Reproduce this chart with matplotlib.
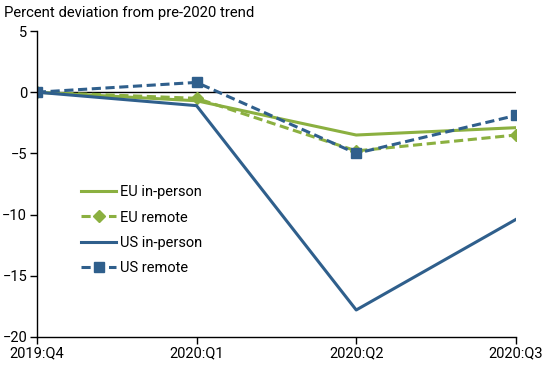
import matplotlib
matplotlib.use("Agg")
import matplotlib.pyplot as plt

plt.rcParams['font.family'] = ['Roboto', 'DejaVu Sans']

quarters = ["2019:Q4", "2020:Q1", "2020:Q2", "2020:Q3"]
eu_inperson = [0.0, -0.7, -3.5, -2.9]
eu_remote = [0.0, -0.5, -4.8, -3.5]
us_inperson = [0.0, -1.1, -17.8, -10.4]
us_remote = [0.0, 0.8, -5.0, -1.9]

green = "#8BB040"
blue = "#2F5F8C"

fig = plt.figure(figsize=(5.5, 3.65), dpi=100)
ax = fig.add_axes([0.067, 0.077, 0.871, 0.838])
x = list(range(len(quarters)))

ax.plot(x, eu_inperson, color=green, lw=2.2, label="EU in-person")
ax.plot(x, eu_remote, color=green, lw=2.2, ls=(0, (3, 1.5)), marker="D", ms=6, label="EU remote")
ax.plot(x, us_inperson, color=blue, lw=2.2, label="US in-person")
ax.plot(x, us_remote, color=blue, lw=2.2, ls=(0, (3, 1.5)), marker="s", ms=7, label="US remote")

ax.axhline(0, color="black", lw=1, zorder=0)
ax.set_xlim(0, 3)
ax.set_ylim(-20, 5)
ax.set_yticks([5, 0, -5, -10, -15, -20])
ax.set_xticks(x)
ax.set_xticklabels(quarters)
for s in ["top", "right"]:
    ax.spines[s].set_visible(False)
ax.spines["left"].set_linewidth(1)
ax.spines["bottom"].set_linewidth(1)
ax.tick_params(axis="both", labelsize=10.5, length=5, width=1, colors="black")
ax.tick_params(axis="y", pad=2)
ax.tick_params(axis="x", pad=2)
for lbl in ax.get_xticklabels():
    lbl.set_clip_on(False)

leg = ax.legend(loc="upper left", bbox_to_anchor=(0.08, 0.515), frameon=False,
                fontsize=10.5, handlelength=2.4, handletextpad=0.25,
                labelspacing=0.78, borderaxespad=0)

fig.text(0.008, 0.965, "Percent deviation from pre-2020 trend", fontsize=10.7,
         ha="left", va="center")

fig.savefig("out.png", dpi=100)
